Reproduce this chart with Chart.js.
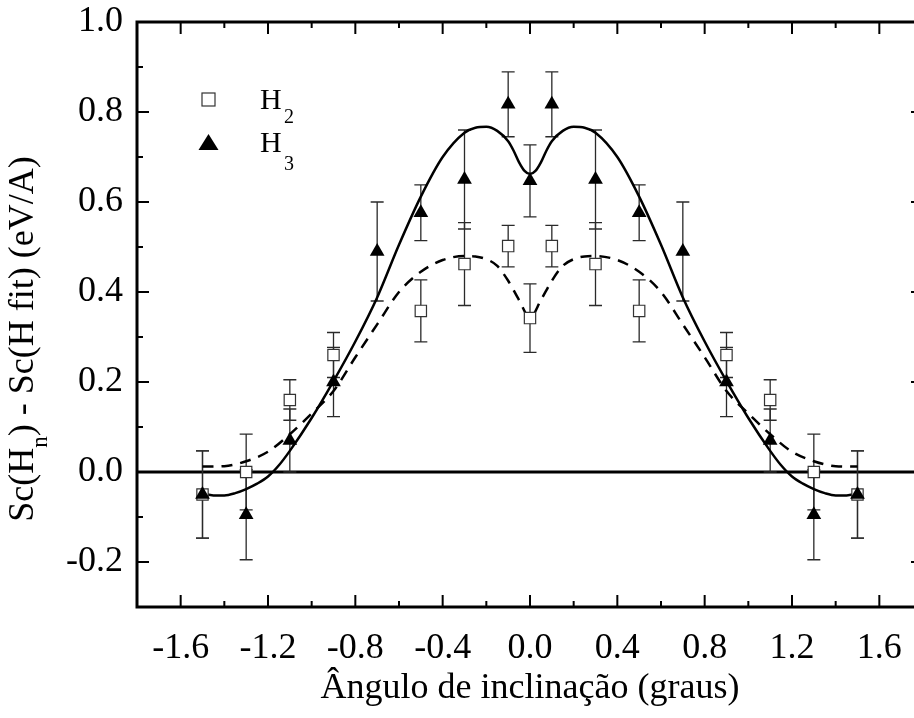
<!DOCTYPE html>
<html>
<head>
<meta charset="utf-8">
<script src="https://cdn.jsdelivr.net/npm/chart.js@4.4.1/dist/chart.umd.min.js"></script>
<style>
    html, body { margin: 0; padding: 0; background: #fff; overflow: hidden; }
</style>
</head>
<body>
<canvas id="fitChart" width="940" height="718"></canvas>
<script>
// axis ticks
const xTicks = [-1.6, -1.2, -0.8, -0.4, 0.0, 0.4, 0.8, 1.2, 1.6];
const xMinorTicks = [-1.4, -1.0, -0.6, -0.2, 0.2, 0.6, 1.0, 1.4];
const yTicks = [-0.2, 0.0, 0.2, 0.4, 0.6, 0.8, 1.0];
const yMinorTicks = [-0.1, 0.1, 0.3, 0.5, 0.7, 0.9];

// H2 points (open squares)
const angleH2 = [-1.5, -1.3, -1.1, -0.9, -0.5, -0.3, -0.1, 0.0, 0.1, 0.3, 0.5, 0.9, 1.1, 1.3, 1.5];
const valueH2 = [-0.05, 0.0, 0.16, 0.26, 0.358, 0.462, 0.502, 0.342, 0.502, 0.462, 0.358, 0.26, 0.16, 0.0, -0.05];
const errorH2 = [0.097, 0.084, 0.045, 0.05, 0.069, 0.092, 0.046, 0.076, 0.046, 0.092, 0.069, 0.05, 0.045, 0.084, 0.097];

// H3 points (filled triangles)
const angleH3 = [-1.5, -1.3, -1.1, -0.9, -0.7, -0.5, -0.3, -0.1, 0.0, 0.1, 0.3, 0.5, 0.7, 0.9, 1.1, 1.3, 1.5];
const valueH3 = [-0.05, -0.095, 0.07, 0.2, 0.49, 0.576, 0.65, 0.817, 0.647, 0.817, 0.65, 0.576, 0.49, 0.2, 0.07, -0.095, -0.05];
const errorH3 = [0.097, 0.1, 0.07, 0.077, 0.11, 0.062, 0.11, 0.072, 0.08, 0.072, 0.11, 0.062, 0.11, 0.077, 0.07, 0.1, 0.097];

// fitted curves
const fitAngleH3 = [-1.5, -1.45, -1.4, -1.35, -1.3, -1.25, -1.2, -1.15, -1.1, -1.0, -0.9, -0.8, -0.7, -0.6, -0.5, -0.4, -0.3, -0.25, -0.2, -0.15, -0.1, -0.075, -0.05, -0.025, 0.0,
                    0.025, 0.05, 0.075, 0.1, 0.15, 0.2, 0.25, 0.3, 0.4, 0.5, 0.6, 0.7, 0.8, 0.9, 1.0, 1.1, 1.15, 1.2, 1.25, 1.3, 1.35, 1.4, 1.45, 1.5];
const fitValueH3 = [-0.048, -0.052, -0.052, -0.047, -0.038, -0.026, -0.01, 0.015, 0.047, 0.12, 0.202, 0.29, 0.388, 0.505, 0.612, 0.70, 0.754, 0.765, 0.767, 0.758, 0.735, 0.714, 0.688, 0.669, 0.662,
                    0.669, 0.688, 0.714, 0.735, 0.758, 0.767, 0.765, 0.754, 0.70, 0.612, 0.505, 0.388, 0.29, 0.202, 0.12, 0.047, 0.015, -0.01, -0.026, -0.038, -0.047, -0.052, -0.052, -0.048];

const fitAngleH2 = [-1.5, -1.4, -1.3, -1.2, -1.1, -1.0, -0.9, -0.8, -0.7, -0.6, -0.5, -0.4, -0.3, -0.25, -0.2, -0.15, -0.1, -0.05, 0.0,
                    0.05, 0.1, 0.15, 0.2, 0.25, 0.3, 0.4, 0.5, 0.6, 0.7, 0.8, 0.9, 1.0, 1.1, 1.2, 1.3, 1.4, 1.5];
const fitValueH2 = [0.012, 0.013, 0.024, 0.045, 0.084, 0.13, 0.18, 0.255, 0.328, 0.40, 0.445, 0.471, 0.48, 0.479, 0.473, 0.458, 0.425, 0.382, 0.343,
                    0.382, 0.425, 0.458, 0.473, 0.479, 0.48, 0.471, 0.445, 0.40, 0.328, 0.255, 0.18, 0.13, 0.084, 0.045, 0.024, 0.013, 0.012];

const serif = "'Liberation Serif', 'Times New Roman', serif";

function toPoints(xs, ys) {
    return xs.map((x, i) => ({ x: x, y: ys[i] }));
}

// zero line + error bars under the markers
const underlayPlugin = {
    id: 'underlay',
    beforeDatasetsDraw(chart) {
        const { ctx, chartArea, scales } = chart;
        const xs = scales.x, ys = scales.y;
        ctx.save();
        ctx.strokeStyle = '#000';
        ctx.lineWidth = 3;
        const y0 = ys.getPixelForValue(0);
        ctx.beginPath();
        ctx.moveTo(chartArea.left, y0);
        ctx.lineTo(chartArea.right, y0);
        ctx.stroke();

        ctx.strokeStyle = '#2a2a2a';
        ctx.lineWidth = 1.3;
        const drawBars = (angles, values, errors) => {
            angles.forEach((a, i) => {
                const px = xs.getPixelForValue(a);
                const top = ys.getPixelForValue(values[i] + errors[i]);
                const bot = ys.getPixelForValue(values[i] - errors[i]);
                ctx.beginPath();
                ctx.moveTo(px, top); ctx.lineTo(px, bot);
                ctx.moveTo(px - 6.5, top); ctx.lineTo(px + 6.5, top);
                ctx.moveTo(px - 6.5, bot); ctx.lineTo(px + 6.5, bot);
                ctx.stroke();
            });
        };
        drawBars(angleH2, valueH2, errorH2);
        drawBars(angleH3, valueH3, errorH3);
        ctx.restore();
    }
};

// frame with inward ticks, y title and legend
const overlayPlugin = {
    id: 'overlay',
    afterDraw(chart) {
        const { ctx, chartArea, scales } = chart;
        const { left, right, top, bottom } = chartArea;
        ctx.save();
        ctx.strokeStyle = '#000';
        ctx.lineWidth = 3;
        ctx.strokeRect(left, top, right - left, bottom - top);

        ctx.lineWidth = 2;
        ctx.beginPath();
        const xMark = (vals, len) => vals.forEach(v => {
            const p = scales.x.getPixelForValue(v);
            ctx.moveTo(p, bottom); ctx.lineTo(p, bottom - len);
            ctx.moveTo(p, top); ctx.lineTo(p, top + len);
        });
        const yMark = (vals, len) => vals.forEach(v => {
            const p = scales.y.getPixelForValue(v);
            ctx.moveTo(left, p); ctx.lineTo(left + len, p);
            ctx.moveTo(right, p); ctx.lineTo(right - len, p);
        });
        xMark(xTicks, 12); xMark(xMinorTicks, 6);
        yMark(yTicks, 12); yMark(yMinorTicks, 6);
        ctx.stroke();

        // y axis title with subscript n
        ctx.fillStyle = '#000';
        ctx.translate(33, 339);
        ctx.rotate(-Math.PI / 2);
        const parts = [
            { t: 'Sc(H', size: 36, dy: 0 },
            { t: 'n', size: 23, dy: 14 },
            { t: ') - Sc(H fit) (eV/A)', size: 36, dy: 0 }
        ];
        let total = 0;
        parts.forEach(p => { ctx.font = p.size + 'px ' + serif; p.w = ctx.measureText(p.t).width; total += p.w; });
        let cx = -total / 2;
        ctx.textBaseline = 'alphabetic';
        parts.forEach(p => { ctx.font = p.size + 'px ' + serif; ctx.fillText(p.t, cx, p.dy); cx += p.w; });
        ctx.restore();

        // legend
        ctx.save();
        ctx.fillStyle = '#fff';
        ctx.strokeStyle = '#333';
        ctx.lineWidth = 1.2;
        ctx.fillRect(202, 93, 13, 13);
        ctx.strokeRect(202, 93, 13, 13);
        ctx.fillStyle = '#000';
        ctx.beginPath();
        ctx.moveTo(208.5, 134); ctx.lineTo(218.5, 150); ctx.lineTo(198.5, 150);
        ctx.closePath();
        ctx.fill();
        ctx.textBaseline = 'alphabetic';
        ctx.font = '30px ' + serif;
        ctx.fillText('H', 260, 109);
        ctx.fillText('H', 260, 152);
        ctx.font = '20px ' + serif;
        ctx.fillText('2', 284, 123);
        ctx.fillText('3', 284, 170);
        ctx.restore();
    }
};

new Chart(document.getElementById('fitChart').getContext('2d'), {
    type: 'scatter',
    data: {
        datasets: [
            {
                label: 'H3',
                data: toPoints(angleH3, valueH3),
                pointStyle: 'triangle',
                pointRadius: 8.5,
                backgroundColor: '#000',
                borderColor: '#000',
                borderWidth: 0,
                showLine: false,
                order: 0
            },
            {
                label: 'H2',
                data: toPoints(angleH2, valueH2),
                pointStyle: 'rect',
                pointRadius: 8,
                backgroundColor: '#fff',
                borderColor: '#333',
                borderWidth: 1.2,
                showLine: false,
                order: 1
            },
            {
                label: 'H3 fit',
                data: toPoints(fitAngleH3, fitValueH3),
                showLine: true,
                pointRadius: 0,
                borderColor: '#000',
                borderWidth: 2.5,
                cubicInterpolationMode: 'monotone',
                order: 2
            },
            {
                label: 'H2 fit',
                data: toPoints(fitAngleH2, fitValueH2),
                showLine: true,
                pointRadius: 0,
                borderColor: '#000',
                borderWidth: 2.5,
                borderDash: [11, 8],
                cubicInterpolationMode: 'monotone',
                order: 3
            }
        ]
    },
    options: {
        responsive: false,
        animation: false,
        layout: { padding: { top: 22, right: 17, bottom: 0, left: 0 } },
        plugins: {
            legend: { display: false },
            tooltip: { enabled: false }
        },
        scales: {
            x: {
                type: 'linear',
                min: -1.8,
                max: 1.8,
                afterBuildTicks: s => { s.ticks = xTicks.map(v => ({ value: v })); },
                afterFit: s => { s.height = 111; s.paddingLeft = 0; s.paddingRight = 0; },
                grid: { display: false, drawTicks: false },
                border: { display: false },
                ticks: {
                    color: '#000',
                    font: { family: serif, size: 36 },
                    padding: 20,
                    maxRotation: 0,
                    autoSkip: false,
                    callback: v => v.toFixed(1)
                },
                title: {
                    display: true,
                    text: 'Ângulo de inclinação (graus)',
                    color: '#000',
                    font: { family: serif, size: 36 },
                    padding: { top: 0, bottom: 8 }
                }
            },
            y: {
                type: 'linear',
                min: -0.3,
                max: 1.0,
                afterBuildTicks: s => { s.ticks = yTicks.map(v => ({ value: v })); },
                afterFit: s => { s.width = 137; s.paddingTop = 0; s.paddingBottom = 0; },
                grid: { display: false, drawTicks: false },
                border: { display: false },
                ticks: {
                    color: '#000',
                    font: { family: serif, size: 36 },
                    padding: 14,
                    autoSkip: false,
                    callback: v => v.toFixed(1)
                }
            }
        }
    },
    plugins: [underlayPlugin, overlayPlugin]
});
</script>
</body>
</html>
